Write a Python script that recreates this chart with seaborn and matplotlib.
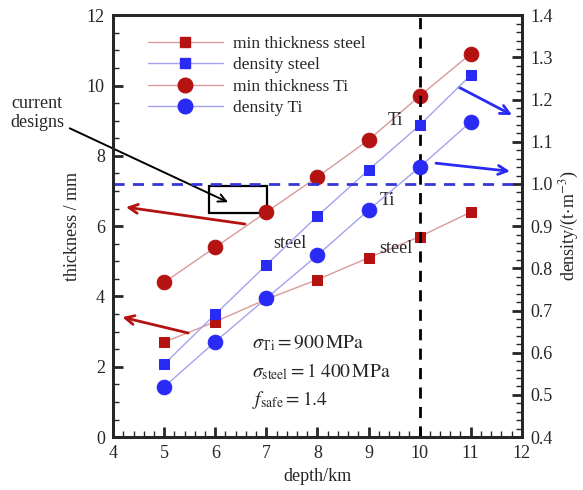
import numpy as np
import pandas as pd
import seaborn as sns
import matplotlib.pyplot as plt
from matplotlib.lines import Line2D
from matplotlib.patches import Rectangle
from matplotlib.ticker import MultipleLocator

# data
depth = [5, 6, 7, 8, 9, 10, 11]
thick_steel = [2.70, 3.28, 3.92, 4.48, 5.10, 5.70, 6.40]
thick_ti = [4.40, 5.40, 6.40, 7.40, 8.45, 9.70, 10.90]
dens_steel = [0.573, 0.691, 0.808, 0.924, 1.033, 1.139, 1.258]
dens_ti = [0.519, 0.626, 0.729, 0.831, 0.938, 1.040, 1.147]

labels = ["min thickness steel", "density steel", "min thickness Ti", "density Ti"]

df = pd.DataFrame({"depth": depth, "ts": thick_steel, "tt": thick_ti,
                   "ds": dens_steel, "dt": dens_ti})

sns.set_style("ticks")
plt.rcParams["font.family"] = ["Liberation Serif", "DejaVu Serif"]
plt.rcParams["mathtext.fontset"] = "stix"

red_dark, red_line = "#b51212", "#d99a9a"
blue_dark, blue_line = "#2a2af5", "#a3a3f0"

fig = plt.figure(figsize=(5.83, 4.90), dpi=100)
ax = fig.add_axes([0.194, 0.108, 0.701, 0.861])
ax2 = ax.twinx()

sq = dict(marker="s", markersize=7.2, linewidth=1.0)
ci = dict(marker="o", markersize=10.5, linewidth=1.0)

sns.lineplot(data=df, x="depth", y="ts", ax=ax, color=red_line,
             markerfacecolor=red_dark, markeredgecolor=red_dark, **sq)
sns.lineplot(data=df, x="depth", y="tt", ax=ax, color=red_line,
             markerfacecolor=red_dark, markeredgecolor=red_dark, **ci)
sns.lineplot(data=df, x="depth", y="ds", ax=ax2, color=blue_line,
             markerfacecolor=blue_dark, markeredgecolor=blue_dark, **sq)
sns.lineplot(data=df, x="depth", y="dt", ax=ax2, color=blue_line,
             markerfacecolor=blue_dark, markeredgecolor=blue_dark, **ci)

ax.set_xlim(4, 12)
ax.set_ylim(0, 12)
ax2.set_ylim(0.4, 1.4)

# reference lines
ax2.axhline(1.0, color="#3535d8", linestyle=(0, (4, 3)), linewidth=2)
ax.axvline(10, color="black", linestyle=(0, (4, 3)), linewidth=2)

# current designs box + arrow
ax.add_patch(Rectangle((5.88, 6.37), 1.13, 0.77, fill=False, edgecolor="black", linewidth=1.6))
ax.annotate("current\ndesigns", xy=(6.25, 6.68), xytext=(37, 377), textcoords="figure pixels",
            ha="center", va="center", fontsize=13, annotation_clip=False,
            arrowprops=dict(arrowstyle="->", color="black", lw=1.4, shrinkA=2, shrinkB=0,
                            mutation_scale=14))

# red arrows to left axis
for (x0, y0), (x1, y1) in [((6.58, 6.06), (4.25, 6.54)), ((5.47, 2.96), (4.18, 3.41))]:
    ax.annotate("", xy=(x1, y1), xytext=(x0, y0),
                arrowprops=dict(arrowstyle="->", color=red_dark, lw=2, mutation_scale=16,
                                shrinkA=0, shrinkB=0))
# blue arrows to right axis
for (x0, y0), (x1, y1) in [((10.77, 9.95), (11.81, 9.16)), ((10.32, 7.79), (11.77, 7.56))]:
    ax.annotate("", xy=(x1, y1), xytext=(x0, y0),
                arrowprops=dict(arrowstyle="->", color=blue_dark, lw=2, mutation_scale=16,
                                shrinkA=0, shrinkB=0))

# curve labels
ax.text(9.52, 9.01, "Ti", fontsize=13, ha="center", va="center")
ax.text(9.36, 6.74, "Ti", fontsize=13, ha="center", va="center")
ax.text(7.46, 5.52, "steel", fontsize=13, ha="center", va="center")
ax.text(9.54, 5.37, "steel", fontsize=13, ha="center", va="center")

ax.text(6.72, 2.67, r"$\sigma_{\rm Ti}=900\,\mathrm{MPa}$", fontsize=14, va="center")
ax.text(6.72, 1.85, r"$\sigma_{\rm steel}=1\;400\,\mathrm{MPa}$", fontsize=14, va="center")
ax.text(6.72, 1.05, r"$f_{\rm safe}=1.4$", fontsize=14, va="center")

# legend
handles = [
    Line2D([], [], color=red_line, marker="s", markerfacecolor=red_dark, markeredgecolor=red_dark, markersize=7.2, lw=1),
    Line2D([], [], color=blue_line, marker="s", markerfacecolor=blue_dark, markeredgecolor=blue_dark, markersize=7.2, lw=1),
    Line2D([], [], color=red_line, marker="o", markerfacecolor=red_dark, markeredgecolor=red_dark, markersize=10.5, lw=1),
    Line2D([], [], color=blue_line, marker="o", markerfacecolor=blue_dark, markeredgecolor=blue_dark, markersize=10.5, lw=1),
]
ax.legend(handles, labels, loc="upper left", bbox_to_anchor=(0.047, 0.988), frameon=False,
          fontsize=12.5, handlelength=4.3, handletextpad=0.6, labelspacing=0.3)

# axes styling
ax.set_xlabel("depth/km", fontsize=13)
ax.set_ylabel("thickness / mm", fontsize=13)
ax2.set_ylabel(r"density/(t$\cdot$m$^{-3}$)", fontsize=13)
ax.xaxis.set_major_locator(MultipleLocator(1))
ax.xaxis.set_minor_locator(MultipleLocator(0.2))
ax.yaxis.set_major_locator(MultipleLocator(2))
ax.yaxis.set_minor_locator(MultipleLocator(0.5))
ax2.yaxis.set_major_locator(MultipleLocator(0.1))
ax2.yaxis.set_minor_locator(MultipleLocator(0.02))
ax2.yaxis.set_major_formatter(plt.FormatStrFormatter("%.1f"))

for a in (ax, ax2):
    a.tick_params(which="major", direction="in", length=7, width=2, labelsize=13, pad=6)
    a.tick_params(which="minor", direction="in", length=4, width=1)
    for s in a.spines.values():
        s.set_linewidth(2)
        s.set_visible(True)
ax.tick_params(axis="y", right=False)
ax.tick_params(axis="x", top=False, which="both")

fig.savefig("out.png", dpi=100)
